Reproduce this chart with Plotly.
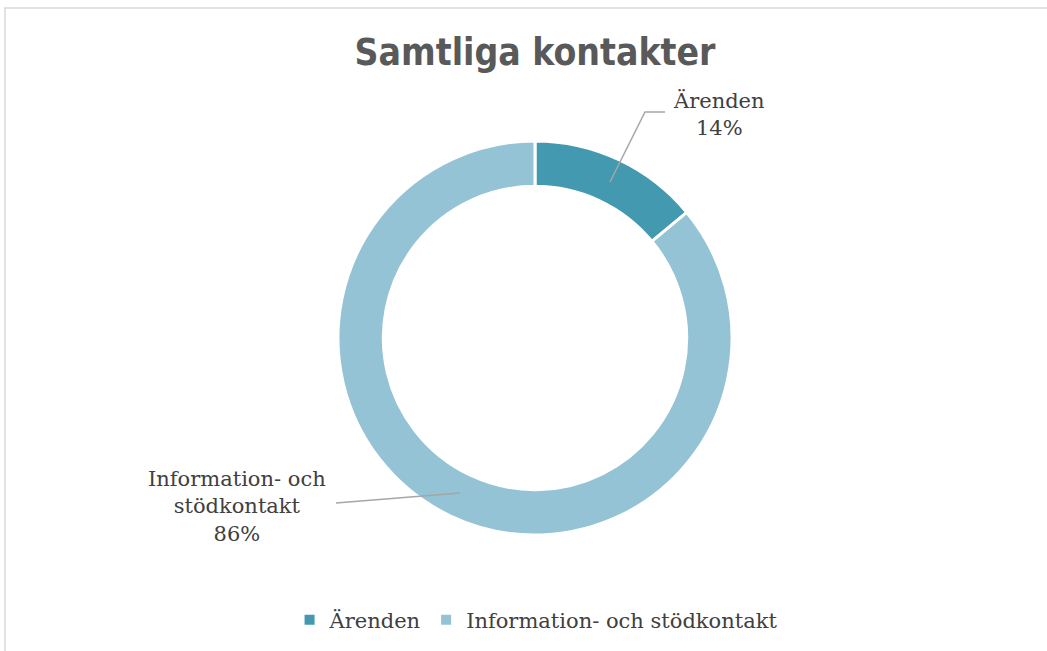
import plotly.graph_objects as go

categories = ["Ärenden", "Information- och stödkontakt"]
values = [14, 86]
colors = ["#4299B0", "#93C3D4"]
title_text = "Samtliga kontakter"

W, H = 1047, 651
fig = go.Figure()
fig.add_trace(go.Pie(
    labels=categories,
    values=values,
    hole=0.77,
    sort=False,
    direction="clockwise",
    rotation=0,
    textinfo="none",
    hoverinfo="label+percent",
    marker=dict(colors=colors, line=dict(color="white", width=3)),
    domain=dict(x=[338 / W, 732 / W], y=[(H - 535) / H, (H - 141) / H]),
))

total = sum(values)
pct = [round(v * 100 / total) for v in values]

def px(x):
    return x / W

def py(y):
    return 1 - y / H

label_font = dict(family="DejaVu Serif", size=21, color="#404040")
fig.add_annotation(x=px(719), y=py(114), xref="paper", yref="paper",
                   xanchor="center", yanchor="middle",
                   text=f"{categories[0]}<br>{pct[0]}%", showarrow=False,
                   font=label_font, align="center")
fig.add_annotation(x=px(237), y=py(506), xref="paper", yref="paper",
                   xanchor="center", yanchor="middle",
                   text="Information- och<br>stödkontakt<br>" + f"{pct[1]}%",
                   showarrow=False, font=label_font, align="center")

line_style = dict(color="#A6A6A6", width=1.5)
fig.add_shape(type="path", xref="paper", yref="paper",
              path=f"M {px(610)} {py(182)} L {px(645)} {py(112)} L {px(665)} {py(112)}",
              line=line_style)
fig.add_shape(type="line", xref="paper", yref="paper",
              x0=px(460), y0=py(493), x1=px(336), y1=py(503), line=line_style)
fig.add_shape(type="rect", xref="paper", yref="paper",
              x0=px(5), y0=-0.02, x1=1.02, y1=py(8),
              line=dict(color="#D9D9D9", width=1.5), fillcolor="rgba(0,0,0,0)")

fig.update_layout(
    width=W, height=H,
    margin=dict(l=0, r=0, t=0, b=0),
    paper_bgcolor="white", plot_bgcolor="white",
    title=dict(text=f"<b>{title_text}</b>", x=0.511, xanchor="center",
               y=py(52), yanchor="middle",
               font=dict(family="DejaVu Sans Condensed", size=37, color="#595959")),
    showlegend=True,
    legend=dict(orientation="h", x=0.512, xanchor="center", y=py(620), yanchor="middle",
                font=dict(family="DejaVu Serif", size=21, color="#404040"),
                itemsizing="constant"),
)
fig.write_html("out.html", config={"displayModeBar": False},
               post_script="document.body.style.margin='0';document.body.style.overflow='hidden';")
